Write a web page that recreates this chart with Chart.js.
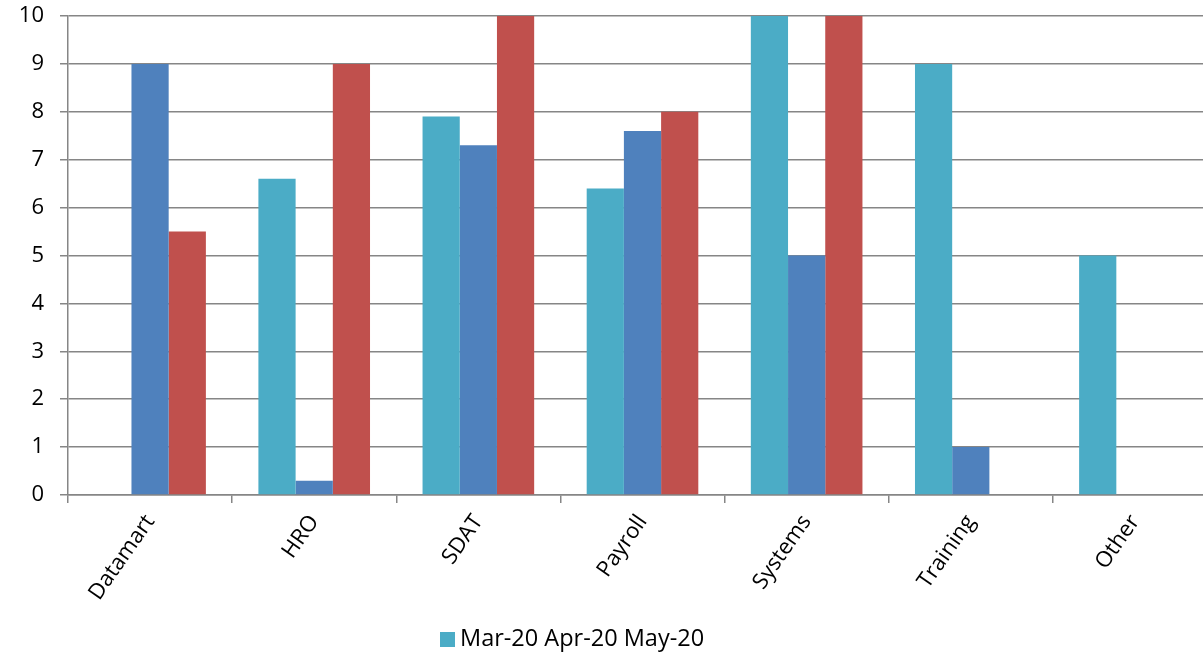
<!DOCTYPE html>
<html>
<head>
<meta charset="utf-8">
<script src="https://cdn.jsdelivr.net/npm/chart.js@4"></script>
<style>
  body { margin: 0; overflow: hidden; background: #fff; }
  #wrap { width: 1203px; height: 656px; overflow: hidden; }
</style>
</head>
<body>
<div id="wrap"><canvas id="myChart" width="1219" height="656"></canvas></div>
<script>
var categories = ['Datamart', 'HRO', 'SDAT', 'Payroll', 'Systems', 'Training', 'Other'];
var seriesNames = ['Mar-20', 'Apr-20', 'May-20'];
var mar20 = [0, 6.6, 7.9, 6.4, 10, 9, 5];
var apr20 = [9, 0.3, 7.3, 7.6, 5, 1, 0];
var may20 = [5.5, 9, 10, 8, 10, 0, 0];
var yTicks = [0, 1, 2, 3, 4, 5, 6, 7, 8, 9, 10];

var colors = ['#4BACC6', '#4F81BD', '#C0504D'];
var fontFamily = '"Open Sans", sans-serif';

// Excel style legend: one swatch followed by all series names
var legendPlugin = {
  id: 'excelLegend',
  afterDraw: function (chart) {
    var c = chart.ctx;
    c.save();
    c.fillStyle = colors[0];
    c.fillRect(440, 632, 15, 15);
    c.fillStyle = '#000';
    c.font = '23.5px ' + fontFamily;
    c.textBaseline = 'middle';
    c.textAlign = 'left';
    c.fillText(seriesNames.join(' '), 460, 639);
    c.restore();
  }
};

var ctx = document.getElementById('myChart').getContext('2d');
var myChart = new Chart(ctx, {
  type: 'bar',
  data: {
    labels: categories,
    datasets: [
      { label: seriesNames[0], data: mar20, backgroundColor: colors[0] },
      { label: seriesNames[1], data: apr20, backgroundColor: colors[1] },
      { label: seriesNames[2], data: may20, backgroundColor: colors[2] }
    ]
  },
  plugins: [legendPlugin],
  options: {
    responsive: false,
    animation: false,
    devicePixelRatio: 1,
    layout: { padding: { top: 16, right: 2, left: 0, bottom: 0 } },
    datasets: { bar: { categoryPercentage: 0.68, barPercentage: 1.0 } },
    plugins: {
      legend: { display: false },
      tooltip: { enabled: false }
    },
    scales: {
      x: {
        afterFit: function (s) { s.height = 161; s.paddingLeft = 0; s.paddingRight = 0; },
        grid: {
          offset: true,
          drawOnChartArea: false,
          color: '#868686',
          lineWidth: 1.5,
          tickLength: 8
        },
        border: { color: '#868686', width: 1.5 },
        ticks: {
          color: '#000',
          font: { family: fontFamily, size: 22 },
          minRotation: 55,
          maxRotation: 55,
          padding: 7
        }
      },
      y: {
        min: 0,
        max: 10,
        afterFit: function (s) { s.width = 68; s.paddingTop = 0; s.paddingBottom = 0; },
        afterBuildTicks: function (s) {
          s.ticks = yTicks.map(function (v) { return { value: v }; });
        },
        grid: { color: '#868686', lineWidth: 1.5, tickLength: 8 },
        border: { color: '#868686', width: 1.5 },
        ticks: {
          color: '#000',
          font: { family: fontFamily, size: 22 },
          padding: 16
        }
      }
    }
  }
});
</script>
</body>
</html>
